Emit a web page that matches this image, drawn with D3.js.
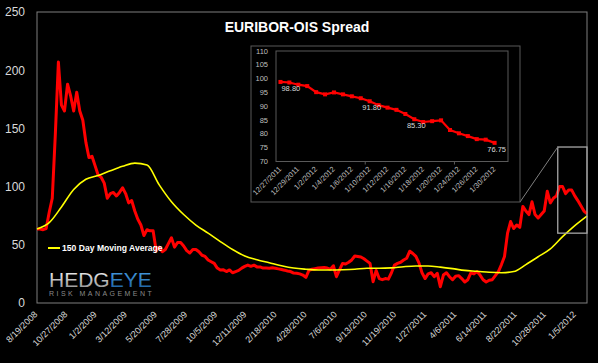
<!DOCTYPE html>
<html><head><meta charset="utf-8">
<script src="https://cdn.jsdelivr.net/npm/d3@7"></script>
<style>html,body{margin:0;padding:0;background:#000;} svg{display:block;}</style>
</head><body>
<svg id="chart" width="598" height="363"></svg>
<script>
// ---------- DATA ----------
const title = "EURIBOR-OIS Spread";
const legendLabel = "150 Day Moving Average";
const domainStart = "8/19/2008";
const domainEnd = "1/31/2012";
const spreadStepDays = 7;     // weekly readings of the spread
const spreadValues = [
 63.6,63.6,63,64,78,90,145,207,170,165,188,178,165,181,165,157,138,125,126,118,
 110,108,103,90,94,95,92,95,99,94,86,88,79,72,67,58,63,62,62,45,
 48,44,46,51,56,48,52,52,49,45,43,46,46,44,41,40,37,35.5,34,30,
 28.4,28.5,27,28.4,26,27,28,30,31.5,32.6,31.5,32.5,31,31,30,30,29.8,30.2,29.8,29.3,
 28.8,28.2,27.5,27,25.7,25.5,25,24,22,28,29,29.5,30,30.3,30.5,30,29,32,22.6,28.4,
 34,33.5,35,37,40.4,40,39.5,38,36,34,18.3,28,21,20,21,20.5,26,32.6,34,35,
 37,38.5,44.5,42.5,40,34.5,26,21,25,26,22.6,25.5,14,24,26,22.6,20,23,23.5,21,
 18,20,26,25,27,24,20,18,19.5,20,23.5,27,33,40,60,70,64,67,65,83,
 79,76,87,76,73,76,79,96,86,90,92,100,100,94,97,97,92,88,83.5,79,
 76.75
];
const maStepDays = 28;        // moving average read every 4 weeks
const maValues = [
 63.6,69,82.5,97.5,106.3,109.5,113.6,117.4,120.2,118.5,101.5,87,76,67,60,52.8,46,40.4,37.2,34.6,
 32,30,29,28.4,28.4,28.6,29,29.8,29.8,30.2,31.2,31.8,31.8,30.8,29.5,28,27.3,26.4,26,27,
 33,39.7,46.5,57,66.5,74.7
];
const xTickLabels = ["8/19/2008","10/27/2008","1/2/2009","3/12/2009","5/20/2009","7/28/2009",
 "10/5/2009","12/11/2009","2/18/2010","4/28/2010","7/6/2010","9/13/2010","11/19/2010",
 "1/27/2011","4/6/2011","6/14/2011","8/22/2011","10/28/2011","1/5/2012"];
const yTicks = [0,50,100,150,200,250];
const zoomBoxFrom = "11/25/2011", zoomBoxTo = "1/31/2012", zoomBoxLow = 60, zoomBoxHigh = 134;

const insetDates = ["12/27/2011","12/28/2011","12/29/2011","12/30/2011","1/2/2012","1/3/2012",
 "1/4/2012","1/5/2012","1/6/2012","1/9/2012","1/10/2012","1/11/2012","1/12/2012","1/13/2012",
 "1/16/2012","1/17/2012","1/18/2012","1/19/2012","1/20/2012","1/23/2012","1/24/2012",
 "1/25/2012","1/26/2012","1/27/2012","1/30/2012"];
const insetValues = [98.8,98.6,97.8,97.3,95.1,94.3,95.0,94.3,93.6,92.9,91.8,90.4,89.5,88.7,
 87.2,85.3,84.3,84.6,84.9,81.4,80.2,79.2,78.1,77.9,76.75];
const insetYTicks = [70,75,80,85,90,95,100,105,110];
const insetLabelled = [0,10,15,24];

// ---------- DRAW ----------
const parse = d3.timeParse("%m/%d/%Y");
const svg = d3.select("#chart");
const FONT = "'Liberation Sans', Arial, sans-serif";
svg.append("rect").attr("width",598).attr("height",363).attr("fill","#000");

const M = {l:37, r:587, t:12, b:303};
const x = d3.scaleTime().domain([parse(domainStart), parse(domainEnd)]).range([M.l, M.r]);
const y = d3.scaleLinear().domain([0,250]).range([M.b, M.t]);

// plot frame
svg.append("rect").attr("x",M.l).attr("y",M.t).attr("width",M.r-M.l).attr("height",M.b-M.t)
  .attr("fill","none").attr("stroke","#7f7f7f").attr("stroke-width",1);

// y axis labels
const yAxis = d3.axisLeft(y).tickValues(yTicks).tickSize(0).tickPadding(12);
const gy = svg.append("g").attr("transform",`translate(${M.l},0)`).call(yAxis);
gy.select(".domain").remove();
gy.selectAll("text").attr("fill","#d9d9d9").style("font-family",FONT).style("font-size","12px");

// x axis labels (rotated)
const gx = svg.append("g");
gx.selectAll("text").data(xTickLabels).join("text")
  .attr("transform", d => `translate(${x(parse(d))+1},${M.b+12}) rotate(-45)`)
  .attr("text-anchor","end")
  .attr("fill","#d9d9d9").style("font-family",FONT).style("font-size","9px")
  .text(d => d);

const t0 = parse(domainStart);
const spread = spreadValues.map((v,i)=>({d:d3.timeDay.offset(t0, i*spreadStepDays), v}));
const ma = maValues.map((v,i)=>({d:d3.timeDay.offset(t0, i*maStepDays), v}));

const line = d3.line().x(p=>x(p.d)).y(p=>y(p.v));
svg.append("path").datum(spread).attr("d", line.curve(d3.curveLinear))
  .attr("fill","none").attr("stroke","#ff0000").attr("stroke-width",3).attr("stroke-linejoin","round");
svg.append("path").datum(ma).attr("d", d3.line().x(p=>x(p.d)).y(p=>y(p.v)).curve(d3.curveMonotoneX))
  .attr("fill","none").attr("stroke","#ffff00").attr("stroke-width",1.6);

// legend
svg.append("line").attr("x1",48).attr("x2",60).attr("y1",248).attr("y2",248)
  .attr("stroke","#ffff00").attr("stroke-width",2);
svg.append("text").attr("x",62).attr("y",251).attr("fill","#ffffff")
  .style("font-family",FONT).style("font-size","8.6px").style("font-weight","bold").text(legendLabel);

// title
svg.append("text").attr("x",297).attr("y",32).attr("text-anchor","middle").attr("fill","#ffffff")
  .style("font-family",FONT).style("font-size","14px").style("font-weight","bold").text(title);

// zoom box in main chart
const bx0 = x(parse(zoomBoxFrom)), bx1 = x(parse(zoomBoxTo));
const by0 = y(zoomBoxHigh), by1 = y(zoomBoxLow);
svg.append("rect").attr("x",bx0).attr("y",by0).attr("width",bx1-bx0).attr("height",by1-by0)
  .attr("fill","none").attr("stroke","#a6a6a6").attr("stroke-width",1.3);

// inset
const I = {ox0:251, oy0:46, ox1:520, oy1:202, l:276, r:508, t:51, b:161.5};
svg.append("line").attr("x1",I.ox1).attr("y1",I.oy1).attr("x2",bx0).attr("y2",by0)
  .attr("stroke","#7f7f7f").attr("stroke-width",1);
svg.append("rect").attr("x",I.ox0).attr("y",I.oy0).attr("width",I.ox1-I.ox0).attr("height",I.oy1-I.oy0)
  .attr("fill","#000").attr("stroke","#595959").attr("stroke-width",1);
svg.append("rect").attr("x",I.l).attr("y",I.t).attr("width",I.r-I.l).attr("height",I.b-I.t)
  .attr("fill","none").attr("stroke","#595959").attr("stroke-width",1);

const ix = d3.scaleBand().domain(d3.range(insetDates.length+1)).range([I.l, I.r]);
const icx = i => ix(i) + ix.bandwidth()/2;
const iy = d3.scaleLinear().domain([70,110]).range([I.b, I.t]);

const giy = svg.append("g");
giy.selectAll("text").data(insetYTicks).join("text")
  .attr("x", I.l-8).attr("y", d=>iy(d)+2.5).attr("text-anchor","end")
  .attr("fill","#bfbfbf").style("font-family",FONT).style("font-size","7.5px").text(d=>d);

svg.selectAll(".itick").data([10,20]).join("line")
  .attr("x1",d=>ix(d)).attr("x2",d=>ix(d)).attr("y1",I.b).attr("y2",I.b+3)
  .attr("stroke","#595959");

const gix = svg.append("g");
gix.selectAll("text").data(insetDates.map((d,i)=>({d,i})).filter(o=>o.i%2===0)).join("text")
  .attr("transform", o => `translate(${icx(o.i)+1.5},${I.b+8}) rotate(-45)`)
  .attr("text-anchor","end").attr("fill","#bfbfbf")
  .style("font-family",FONT).style("font-size","7.5px").text(o=>o.d);

const ipts = insetValues.map((v,i)=>({i,v}));
svg.append("path").datum(ipts)
  .attr("d", d3.line().x(p=>icx(p.i)).y(p=>iy(p.v)))
  .attr("fill","none").attr("stroke","#ff0000").attr("stroke-width",2.2);
svg.selectAll(".imark").data(ipts).join("rect")
  .attr("x",p=>icx(p.i)-2).attr("y",p=>iy(p.v)-2).attr("width",4).attr("height",4)
  .attr("fill","#ff0000");
const fmt = d3.format(".2f");
svg.selectAll(".ilab").data(insetLabelled.map(i=>ipts[i])).join("text")
  .attr("x", p => p.i===0 ? icx(p.i)+1 : icx(p.i)+2)
  .attr("y", p => iy(p.v)+9)
  .attr("text-anchor", p => p.i===0 ? "start" : "middle")
  .attr("fill","#d9d9d9").style("font-family",FONT).style("font-size","7.5px")
  .text(p=>fmt(p.v));

// logo
const defs = svg.append("defs");
const g1 = defs.append("linearGradient").attr("id","silver").attr("x1",0).attr("y1",0).attr("x2",0).attr("y2",1);
g1.append("stop").attr("offset","0%").attr("stop-color","#ffffff");
g1.append("stop").attr("offset","100%").attr("stop-color","#8c8c8c");
const g2 = defs.append("linearGradient").attr("id","blue").attr("x1",0).attr("y1",0).attr("x2",0).attr("y2",1);
g2.append("stop").attr("offset","0%").attr("stop-color","#4aa3e8");
g2.append("stop").attr("offset","100%").attr("stop-color","#1c5f9e");
const logo = svg.append("text").attr("x",49).attr("y",286.5)
  .style("font-family",FONT).style("font-size","21px");
logo.append("tspan").attr("fill","url(#silver)").text("HEDG");
logo.append("tspan").attr("fill","url(#blue)").text("EYE");
svg.append("text").attr("x",49).attr("y",295.5).attr("fill","#8a8a8a")
  .style("font-family",FONT).style("font-size","7px").style("letter-spacing","2.45px")
  .text("RISK MANAGEMENT");
</script>
</body></html>
